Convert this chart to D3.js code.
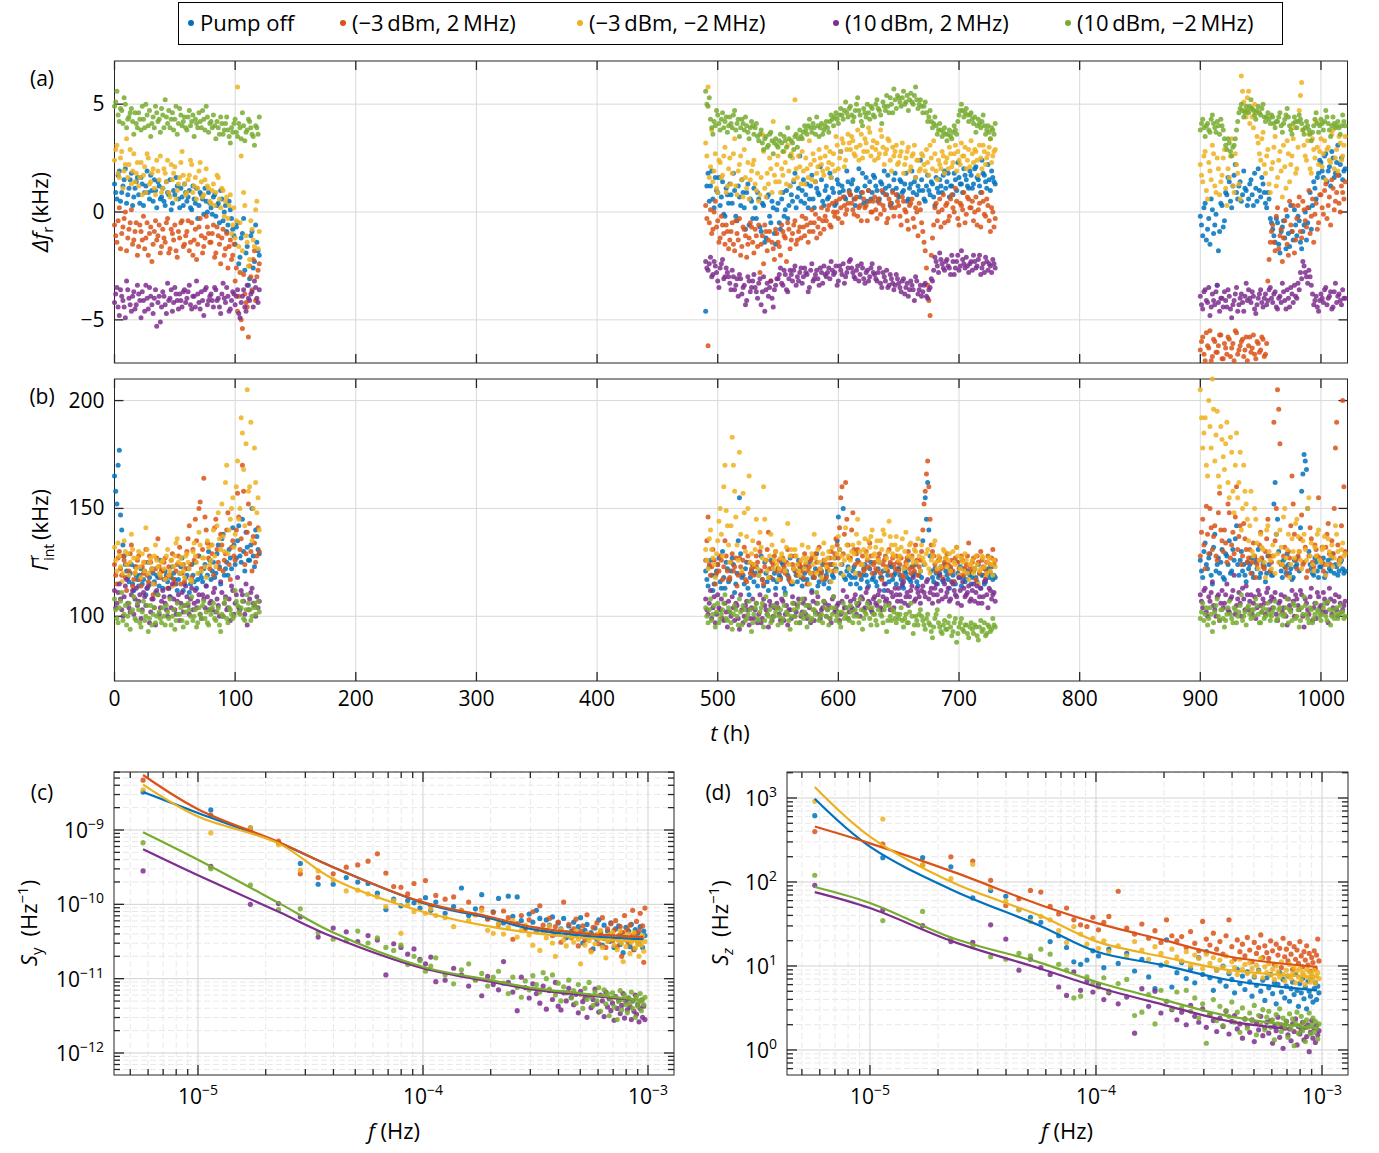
<!DOCTYPE html>
<html lang="en">
<head>
<meta charset="utf-8" />
<title>Pump stability – time traces and spectra</title>
<script src="https://cdn.jsdelivr.net/npm/d3@7"></script>
<style>
  body { margin: 0; background: #fff; }
  svg  { display: block; font-family: "Open Sans", Lato, "DejaVu Sans", sans-serif; }
</style>
</head>
<body>
<svg id="chart" width="1379" height="1153"></svg>
<script>
/* ---------- series ---------- */
const seriesNames = ['Pump off', '(\u22123\u2009dBm, 2\u2009MHz)', '(\u22123\u2009dBm, \u22122\u2009MHz)', '(10\u2009dBm, 2\u2009MHz)', '(10\u2009dBm, \u22122\u2009MHz)'];
const seriesColors = ['#0072BD', '#D95319', '#EDB120', '#7E2F8E', '#77AC30'];

/* ---------- time traces: three runs; readings at even hours (…) and odd hours (…2) ---------- */
const segStart = [0, 490, 900];
const segEnd = [120, 730, 1020];
const sampleStep = 2;

// (a) resonance shift, kHz
const dfBlue = [
  [1.3,0.6,1.9,0.9,1.5,0.4,1.1,1.8,0.7,1.4, 0.8,1.6,0.3,1.2,0.9,1.7,0.5,1.0,1.4,0.6, 1.1,0.3,0.9,1.5,0.4,0.8,1.2,0.2,0.7,1.3,
   0.5,1.0,0.1,0.6,1.1,0.3,0.8,-0.1,0.5,0.9, 0.2,0.7,-0.2,0.4,1.0,-0.4,0.3,-0.6,0.1,-0.8, -1.5,-0.5,-2.1,-1.0,-2.7,-1.6,-3.1,-0.9,-2.3,-1.4, -2.0],
  [-4.6,1.8,1.2,0.6,1.6,0.9,0.3,1.4,-0.2,0.8, 1.3,0.4,1.0,-0.4,0.7,1.5,0.2,0.9,-0.6,0.5, 1.1,-0.3,0.6,-0.9,0.3,-1.2,0.8,-0.5,0.2,-1.5,
   0.4,-0.8,0.9,0.1,-0.3,1.2,0.5,1.8,0.7,2.6, 1.0,0.4,1.3,0.6,1.7,0.2,1.1,0.8,1.5,0.3, 1.2,0.7,1.6,0.9,0.4,1.3,2.8,1.0,0.6,1.4,
   0.8,1.5,0.3,1.1,0.7,1.8,1.2,0.5,1.4,0.9, 1.6,1.0,0.6,1.3,1.9,0.8,1.2,0.4,1.5,1.1, 0.7,1.4,1.0,1.8,0.6,1.3,0.9,1.6,1.2,2.4,
   1.0,0.5,1.7,0.8,1.3,0.3,1.1,1.5,0.9,1.9, 1.4,0.7,1.2,1.8,1.0,1.6,1.3,2.0,1.5,1.1, 1.7,1.3,2.1,1.5,0.9,1.8,1.4,2.2,1.0,1.6, 1.3],
  [-0.2,-1.1,0.4,-0.8,-1.5,0.1,-0.6,-3.4,-0.9,0.3, -0.4,0.8,1.4,0.2,1.7,0.9,1.2,0.5,1.9,1.0, 0.6,1.5,0.3,1.1,2.0,0.7,1.3,0.4,0.9,-0.3,
   -0.8,-1.4,-0.5,-1.9,-0.7,-1.2,-0.2,-1.6,-0.9,0.1, -1.1,-0.4,-1.7,-0.6,-1.3,0.2,-0.8,1.4,0.6,1.8, 2.3,1.6,2.7,1.9,1.2,2.5,1.8,3.1,2.2,1.5, 2.0]
];
const dfBlue2 = [
  [0.9,1.7,0.5,1.2,2.0,0.8,1.5,0.3,1.1,1.6, 0.4,1.3,0.9,1.9,0.6,1.0,1.5,0.2,1.2,0.7, 0.5,1.4,0.8,0.1,1.0,1.6,0.6,1.1,0.3,0.9,
   0.7,0.2,1.2,0.4,-0.3,0.9,0.6,1.1,0.0,0.4, -0.1,0.8,0.3,-0.5,0.6,0.0,-0.9,0.5,-0.3,-1.1, -0.7,-2.4,-1.2,-0.3,-1.9,-3.4,-1.1,-2.6,-0.6,-1.8],
  [1.2,0.5,1.9,0.2,1.0,1.6,0.7,-0.1,1.1,0.4, 0.8,1.8,-0.2,1.2,0.3,0.9,-0.8,1.3,0.6,-0.3, 0.2,0.9,-0.7,0.4,-1.4,0.7,-0.2,0.5,-1.0,0.1,
   -0.5,0.6,-0.2,1.0,0.3,0.8,1.4,0.2,1.1,0.5, 1.5,0.8,0.2,1.2,0.6,1.4,0.9,2.1,0.5,1.0, 0.6,1.8,1.1,0.3,1.5,0.9,1.2,0.7,1.9,1.0,
   1.3,0.6,1.0,2.0,0.9,0.4,1.6,1.0,0.6,1.7, 1.2,0.5,1.4,0.9,1.1,1.7,0.3,1.0,1.8,0.8, 1.5,0.9,1.3,0.5,1.1,1.9,1.4,0.8,1.0,1.5,
   0.6,1.2,1.0,1.4,0.7,1.6,0.9,1.2,1.7,1.1, 1.8,1.2,0.8,1.5,2.3,1.3,0.9,1.7,1.2,1.9, 1.1,2.0,1.6,1.2,2.4,1.7,1.1,1.5,1.9,1.4],
  [-0.6,0.2,-1.3,-0.3,0.6,-1.0,-0.1,-1.8,0.4,-0.7, 0.9,1.6,0.5,1.2,2.2,0.6,1.4,0.8,1.1,0.3, 1.3,0.8,1.8,0.5,1.0,1.6,0.9,0.2,0.6,-0.5,
   -1.1,-0.3,-1.5,-0.9,-0.4,-1.7,-1.0,0.3,-1.3,-0.6, -0.2,-1.4,-0.9,0.0,-0.5,0.9,0.3,1.1,1.6,2.4, 1.9,2.6,1.4,2.1,2.8,1.6,2.3,1.7,2.5,1.9]
];
const dfOrange = [
  [-0.6,-1.4,0.2,-1.0,-0.3,-1.8,-0.8,0.1,-1.3,-0.5, -1.6,-0.9,-0.2,-1.2,-2.0,-0.7,-1.5,-0.4,-1.1,-1.9, -0.8,-1.4,-0.3,-1.7,-1.0,-0.6,-2.1,-1.2,-0.4,-1.5,
   -0.9,-1.8,-0.5,-1.3,-2.2,-0.7,-1.1,-1.6,-0.2,-1.0, -1.4,-0.6,-1.9,-1.1,-2.4,-0.8,-1.7,-2.6,-1.3,-2.0, -3.2,-4.6,-2.8,-5.4,-3.8,-4.4,-2.5,-3.6,-1.8,-3.0, -2.4],
  [0.3,-6.2,0.1,-0.8,0.5,-0.4,-1.2,-0.6,-1.5,-0.9, -1.3,-0.5,-1.8,-1.0,-0.3,-1.6,-0.8,-2.1,-1.2,-0.7, -1.9,-1.1,-0.6,-1.5,-2.4,-0.9,-1.3,-3.2,-1.7,-0.8,
   -1.4,-2.0,-0.9,-1.2,-0.5,-1.7,-1.0,-0.4,-1.3,-0.7, -0.2,-1.1,-0.6,-0.9,0.1,-0.5,-1.2,-0.3,0.2,-0.8, -0.4,0.3,-0.7,0.0,0.5,-0.3,0.2,0.7,-0.1,0.4,
   0.8,0.1,0.6,-0.2,0.3,0.9,0.2,-0.4,0.5,0.0, 0.7,-0.3,0.4,1.0,0.1,-0.5,0.6,0.2,-0.2,0.8, 0.3,-0.6,0.5,0.0,-0.8,0.4,-0.3,0.2,-1.1,0.1,
   -0.9,-1.8,-3.4,-4.8,-1.2,0.2,-0.4,0.6,0.1,-0.5, 0.4,-0.2,0.8,0.0,0.5,-0.6,0.3,0.9,-0.1,0.6, 0.2,-0.4,0.7,0.1,-0.7,0.5,-0.2,0.3,-0.9,0.0, -0.3],
  [-6.4,-5.8,-6.9,-6.2,-5.5,-6.7,-6.0,-6.5,-5.7,-6.8, -6.1,-6.6,-5.9,-6.3,-6.9,-5.6,-6.4,-6.0,-6.7,-5.8, -6.2,-6.5,-5.7,-6.8,-6.1,-6.4,-5.9,-6.6,-3.2,-1.4,
   -0.6,-1.8,0.2,-1.1,-2.3,-0.4,-1.5,0.5,-0.9,-1.9, -0.3,0.7,-1.2,0.1,-0.7,1.0,-0.2,-1.4,0.4,-0.5, 0.8,-0.1,1.3,0.3,-0.6,1.1,0.5,1.7,0.0,0.9, 1.4]
];
const dfOrange2 = [
  [-1.1,-0.4,-1.7,-0.7,0.0,-1.2,-0.5,-1.5,-0.9,-2.0, -0.6,-1.3,-1.7,-0.5,-1.0,-2.3,-0.9,-1.3,-0.6,-1.6, -1.2,-0.5,-1.9,-0.8,-1.3,-1.8,-0.9,-0.5,-1.6,-1.1,
   -0.4,-1.4,-2.0,-0.8,-1.5,-0.3,-1.9,-1.2,-0.7,-1.4, -1.0,-2.1,-0.7,-1.5,-1.2,-2.0,-1.0,-1.6,-2.2,-1.5, -2.6,-3.9,-5.0,-2.9,-4.2,-5.8,-3.0,-2.2,-4.1,-2.7],
  [-0.3,-0.5,-1.0,0.0,-0.7,-1.4,-0.2,-1.0,-0.6,-1.7, -0.9,-1.5,-0.4,-1.3,-2.0,-0.7,-1.1,-1.5,-0.5,-1.4, -0.8,-1.6,-2.8,-1.1,-0.6,-1.8,-0.9,-1.4,-2.2,-1.0,
   -1.6,-0.6,-1.1,-2.3,-0.8,-1.3,-0.6,-1.5,-0.9,-1.2, -0.7,-0.3,-1.4,-0.5,-0.9,-0.1,-0.7,-1.0,-0.4,-0.2, 0.1,-0.6,0.4,-0.2,0.0,0.6,-0.5,0.3,0.1,0.9,
   0.4,-0.1,0.7,0.2,-0.4,0.6,0.3,1.0,0.0,0.5, 0.1,0.6,-0.1,0.3,0.8,-0.3,0.4,0.9,0.2,0.5, -0.2,0.7,0.1,-0.4,0.3,0.6,-0.7,0.0,0.4,-0.5,
   -1.4,-2.6,-4.1,-2.0,-0.6,0.4,0.0,-0.7,0.8,0.3, -0.4,0.6,0.2,1.1,-0.3,0.4,0.1,-0.5,0.7,0.2, 0.5,0.0,-0.6,0.4,0.9,-0.1,0.6,-0.4,0.2,-0.7],
  [-6.0,-6.6,-5.6,-6.3,-6.9,-5.9,-6.5,-6.2,-5.7,-6.8, -6.3,-5.8,-6.7,-6.1,-5.5,-6.6,-6.2,-5.9,-6.4,-6.9, -5.8,-6.3,-6.6,-6.0,-6.5,-5.8,-6.7,-6.1,-2.2,-0.9,
   -1.4,-0.2,-1.7,-0.8,-1.2,0.1,-2.0,-0.6,0.3,-1.3, 0.3,-0.9,0.5,-0.4,0.2,-1.0,0.6,-0.1,-0.8,0.8, 0.2,1.0,-0.3,0.7,1.5,0.1,0.9,0.4,1.2,0.6]
];
const dfYellow = [
  [2.4,3.1,1.6,2.8,1.9,3.4,2.2,1.3,2.7,1.8, 1.2,2.3,1.7,0.9,2.5,1.4,2.0,0.8,1.9,2.6, 1.1,1.8,2.4,0.7,1.5,2.1,1.0,1.6,2.8,1.3,
   0.9,1.7,2.2,1.2,0.6,1.9,1.4,0.8,2.0,1.1, 0.4,1.3,0.9,1.6,0.2,1.0,0.5,-0.3,0.8,-0.6, -1.2,5.8,-0.5,-1.8,0.3,-1.4,-2.2,-0.8,-1.6,0.5, -0.9],
  [3.2,5.8,2.1,1.4,2.7,0.9,2.3,1.7,3.0,1.2, 2.5,1.8,3.4,0.8,2.2,1.5,2.9,1.1,0.6,1.9, 2.4,1.0,0.5,1.6,2.8,0.7,1.3,2.0,4.2,1.4,
   2.6,0.9,1.7,2.3,3.1,1.2,2.5,5.2,1.6,2.1, 2.8,1.3,2.0,3.3,1.5,2.4,1.8,2.9,2.2,1.7, 3.0,2.3,1.6,2.7,3.5,2.0,2.8,3.2,2.4,3.6,
   2.9,3.3,2.6,3.8,3.1,2.5,3.4,2.8,3.7,3.0, 2.4,3.2,2.7,3.5,2.2,2.9,3.3,1.9,2.6,3.1, 2.3,2.8,1.8,2.5,3.0,2.1,2.7,1.6,2.4,2.0,
   2.6,1.9,2.3,3.1,2.0,2.7,1.5,2.2,2.8,1.8, 2.5,3.0,2.1,2.7,1.9,2.4,3.2,2.6,2.0,2.9, 3.3,2.3,2.8,1.7,2.5,3.1,2.2,2.7,3.4,2.6, 2.9],
  [2.2,1.4,2.8,0.6,1.9,3.1,1.2,2.5,0.8,1.7, 2.9,0.3,1.6,3.4,0.9,2.2,1.3,6.3,5.1,4.4, 5.6,4.8,3.9,4.6,3.2,2.4,3.7,1.8,2.9,0.9,
   2.3,3.5,1.6,2.8,0.7,2.1,3.3,1.4,2.6,3.9, 2.0,4.7,6.0,3.1,2.4,3.6,1.8,2.9,4.2,2.2, 3.4,2.7,1.5,3.0,2.3,3.8,2.5,1.9,3.2,2.6, 3.5]
];
const dfYellow2 = [
  [2.9,1.8,2.5,1.1,2.2,1.6,2.9,1.9,1.4,2.3, 1.6,0.8,2.1,2.7,1.3,1.8,1.1,2.4,1.5,0.9, 2.0,1.4,0.9,2.2,1.8,0.6,1.3,2.3,1.7,0.8,
   1.5,2.4,0.9,1.6,1.1,2.3,0.7,1.5,1.2,0.5, 1.0,0.3,1.7,0.6,1.1,-0.2,0.7,0.3,-1.0,0.2, -0.4,-1.6,2.6,0.9,-1.1,-2.5,-0.4,-1.3,0.1,-1.7],
  [2.6,1.6,3.8,1.9,1.1,2.4,1.6,2.6,0.9,2.0, 1.3,2.7,1.2,1.9,2.6,0.7,1.6,2.3,1.5,2.2, 1.3,1.8,0.8,3.6,1.1,1.8,2.5,0.9,1.7,2.2,
   1.4,2.0,2.8,1.3,1.9,2.7,1.5,2.0,2.6,1.3, 1.9,2.5,1.6,2.2,2.7,1.4,2.1,2.5,1.9,2.6, 2.0,2.8,2.2,1.9,3.1,2.5,3.4,2.1,2.9,3.2,
   3.5,2.7,3.0,2.4,3.6,2.8,3.2,3.9,2.6,3.3, 2.9,2.5,3.8,3.0,2.7,3.4,2.4,3.0,2.8,2.2, 2.6,3.2,2.2,2.8,1.9,2.6,3.1,2.4,1.9,2.7,
   2.2,2.9,1.7,2.5,3.3,1.9,2.4,2.0,2.6,2.3, 2.0,2.7,2.3,3.1,2.8,2.2,2.6,3.0,2.4,2.1, 2.7,2.9,2.4,3.1,2.0,2.8,2.5,3.0,2.3,2.8],
  [1.7,2.6,1.0,2.3,1.5,2.7,0.9,2.0,1.4,2.5, 1.1,2.0,2.6,1.2,2.7,1.8,0.6,5.6,4.7,5.3, 4.1,4.4,5.0,3.5,2.7,3.4,2.2,2.6,1.3,2.0,
   3.0,1.2,2.4,1.9,3.1,1.1,2.7,2.2,3.4,1.8, 3.0,5.4,3.8,2.6,3.3,2.0,3.4,2.5,3.0,2.8, 2.1,3.3,2.9,2.4,3.6,2.0,2.9,3.5,2.4,3.1]
];
const dfPurple = [
  [-4.2,-3.5,-4.8,-3.9,-4.4,-3.2,-4.0,-4.6,-3.7,-4.3, -3.8,-4.9,-4.1,-3.4,-4.5,-3.9,-4.7,-3.6,-4.2,-5.1, -3.7,-4.3,-3.3,-4.0,-4.6,-3.5,-4.1,-3.8,-4.4,-3.6,
   -4.0,-3.4,-4.5,-3.9,-3.2,-4.2,-3.7,-4.8,-3.5,-4.1, -3.8,-4.4,-3.6,-4.0,-4.7,-3.3,-4.2,-3.9,-4.5,-3.7, -4.3,-3.6,-4.9,-3.9,-4.4,-3.4,-4.1,-3.7,-3.2,-4.0, -3.6],
  [-2.3,-2.7,-2.1,-2.9,-2.5,-3.2,-2.6,-2.2,-3.0,-2.8, -3.3,-2.7,-3.6,-3.1,-2.9,-3.8,-3.4,-4.1,-3.2,-3.5, -2.9,-3.7,-3.3,-4.3,-3.0,-3.6,-3.9,-3.2,-4.4,-3.4,
   -3.1,-2.6,-3.4,-2.9,-3.7,-2.7,-3.2,-2.5,-3.0,-2.8, -3.3,-2.6,-2.9,-3.5,-2.4,-3.1,-2.7,-3.4,-2.8,-2.5, -3.0,-2.6,-2.3,-2.9,-2.5,-3.2,-2.7,-2.4,-3.0,-2.6,
   -2.2,-2.8,-3.1,-2.5,-2.9,-2.6,-3.3,-2.7,-3.0,-2.4, -2.9,-3.2,-2.6,-3.5,-3.0,-2.7,-3.4,-3.1,-3.6,-2.9, -3.3,-3.7,-3.1,-3.5,-3.9,-3.2,-3.6,-3.0,-3.8,-3.4,
   -3.7,-3.3,-4.0,-3.5,-3.2,-2.1,-2.5,-1.9,-2.4,-2.7, -2.2,-2.6,-2.0,-2.9,-2.3,-2.7,-1.8,-2.4,-2.1,-2.8, -2.3,-2.0,-2.6,-2.2,-2.9,-2.4,-2.1,-2.7,-2.5,-2.2, -2.6],
  [-3.9,-4.5,-3.6,-4.2,-4.8,-3.8,-4.3,-3.4,-4.6,-4.0, -3.7,-4.4,-3.9,-4.9,-4.1,-3.5,-4.3,-3.8,-4.6,-3.3, -3.6,-4.2,-3.9,-4.7,-4.0,-3.6,-4.4,-3.8,-4.1,-3.5,
   -4.2,-3.7,-4.5,-3.9,-3.3,-4.1,-3.6,-4.4,-3.8,-3.4, -4.0,-3.6,-3.1,-2.5,-3.0,-2.7,-3.4,-4.3,-3.9,-4.6, -3.8,-4.2,-3.5,-4.0,-3.7,-4.4,-3.3,-3.9,-4.1,-3.6, -4.0]
];
const dfPurple2 = [
  [-3.8,-4.4,-3.6,-4.1,-4.9,-3.6,-4.3,-3.9,-4.5,-3.4, -4.1,-3.7,-4.6,-4.0,-3.5,-4.3,-4.0,-5.3,-3.9,-4.4, -3.9,-4.7,-4.1,-3.6,-4.2,-3.8,-4.5,-4.1,-3.7,-4.2,
   -3.7,-4.3,-3.9,-4.4,-3.8,-4.5,-4.1,-3.6,-4.3,-3.9, -4.1,-3.5,-4.1,-4.4,-3.8,-4.0,-3.5,-4.6,-4.1,-3.8, -3.9,-4.7,-4.2,-3.6,-4.6,-4.0,-3.8,-4.4,-3.5,-4.2],
  [-2.6,-2.4,-3.0,-2.3,-2.8,-3.5,-2.4,-3.1,-2.6,-3.0, -3.6,-3.0,-3.4,-3.9,-3.1,-3.5,-4.3,-3.0,-3.7,-3.2, -3.5,-4.0,-3.1,-3.7,-4.6,-3.3,-3.5,-4.0,-3.6,-3.1,
   -2.9,-3.3,-2.7,-3.6,-3.1,-2.9,-2.7,-3.4,-3.2,-2.6, -3.0,-2.8,-3.7,-2.7,-3.2,-2.9,-3.1,-2.6,-3.3,-2.9, -2.8,-3.1,-2.7,-2.8,-3.4,-2.5,-2.9,-3.3,-2.8,-2.3,
   -2.6,-3.0,-2.7,-3.2,-2.4,-3.1,-2.8,-3.2,-2.6,-2.8, -3.1,-2.8,-3.3,-2.8,-3.2,-3.5,-2.9,-3.3,-3.4,-3.1, -3.5,-3.2,-3.8,-3.3,-3.6,-3.4,-4.1,-3.2,-3.6,-3.9,
   -3.4,-3.9,-3.6,-3.1,-2.7,-2.3,-2.8,-2.2,-2.6,-2.3, -2.5,-2.9,-2.3,-2.6,-2.0,-2.5,-2.2,-2.6,-2.5,-2.4, -2.7,-2.3,-2.5,-2.0,-2.6,-2.8,-2.3,-2.4,-2.8,-2.4],
  [-4.3,-3.7,-4.1,-3.5,-4.4,-4.1,-3.7,-4.2,-4.0,-4.4, -4.1,-3.6,-4.5,-4.3,-3.8,-4.6,-4.0,-4.2,-3.9,-4.1, -4.0,-3.7,-4.5,-4.3,-3.8,-4.2,-4.0,-4.3,-3.6,-4.0,
   -3.8,-4.4,-4.0,-4.2,-3.7,-4.5,-4.0,-3.5,-4.2,-3.9, -3.3,-2.8,-2.3,-2.8,-3.3,-3.0,-3.8,-4.1,-4.4,-4.1, -4.0,-3.6,-4.3,-3.9,-4.5,-3.7,-4.2,-3.8,-4.3,-4.0]
];
const dfGreen = [
  [4.9,5.6,4.2,4.7,5.3,3.9,4.4,4.8,3.6,4.1, 4.6,3.8,4.3,5.0,4.0,3.5,4.4,4.9,4.2,3.7, 4.5,5.2,4.1,3.9,4.6,4.3,3.6,4.8,4.0,4.4,
   3.8,4.7,4.2,3.5,4.1,4.6,3.9,4.3,4.9,3.7, 4.2,4.5,3.4,3.9,4.4,3.6,4.1,3.8,3.2,3.7, 4.3,3.5,3.9,4.6,3.3,3.8,4.2,3.6,3.1,3.9, 4.4],
  [5.6,4.9,4.3,3.6,4.0,4.5,3.8,4.6,4.2,3.7, 4.4,3.9,4.7,4.1,3.5,4.3,3.8,4.0,3.4,4.2, 3.6,4.1,3.3,3.8,2.9,3.5,3.1,3.7,2.7,3.4,
   3.0,3.6,2.8,3.3,3.9,2.6,3.2,3.5,3.0,3.8, 3.4,4.0,3.6,4.3,3.7,3.9,4.4,3.5,4.1,3.8, 4.2,3.7,4.5,4.0,4.6,4.1,4.8,4.3,5.1,4.4,
   4.9,4.2,4.7,5.3,4.5,4.0,4.6,5.0,4.3,4.8, 4.4,5.2,4.7,4.1,4.9,5.4,4.6,5.0,5.7,4.8, 5.3,4.9,5.6,5.1,4.7,5.5,5.0,5.8,4.8,5.2,
   4.6,5.1,4.2,4.7,3.9,4.4,3.6,4.1,3.5,3.9, 3.3,3.8,3.4,4.0,3.6,4.5,5.0,4.4,4.8,4.2, 4.6,4.1,3.7,4.3,3.9,4.5,3.6,4.0,3.4,3.8, 4.1],
  [3.8,4.3,3.5,4.1,3.7,4.5,3.9,4.2,3.6,4.0, 3.4,2.9,3.2,2.6,3.1,3.8,4.6,5.0,4.4,4.9, 4.6,5.2,4.7,4.3,4.9,4.5,5.0,4.2,4.6,4.1,
   4.4,3.9,4.2,4.6,3.7,4.3,4.8,4.0,3.6,4.4, 3.9,4.5,4.1,3.6,4.2,3.8,3.3,4.0,4.6,3.7, 4.3,3.8,4.7,4.1,3.5,4.4,3.9,4.2,3.6,4.5, 4.0]
];
const dfGreen2 = [
  [5.1,4.5,4.8,4.1,5.0,4.3,4.6,4.2,4.6,3.9, 4.3,4.9,3.9,4.5,4.7,4.1,3.9,4.6,4.3,4.8, 3.9,4.4,4.7,4.3,3.8,4.9,4.1,4.5,4.2,3.9,
   4.4,4.0,4.5,4.3,3.9,4.2,4.7,3.8,4.4,4.1, 3.9,4.0,4.2,3.6,4.1,3.8,4.4,3.5,3.9,4.1, 3.7,4.1,3.4,4.0,3.7,4.3,3.9,3.5,4.0,3.6],
  [5.0,5.3,3.9,4.2,4.7,4.1,4.3,3.9,4.4,4.0, 4.1,4.5,3.8,4.3,3.9,4.1,4.4,3.7,3.9,4.0, 3.9,3.5,3.6,3.2,3.4,3.0,3.6,3.3,3.2,3.1,
   3.3,3.2,3.5,3.0,3.4,3.3,2.9,3.6,3.4,3.5, 3.7,3.8,4.0,3.9,4.1,3.6,4.0,3.9,3.6,4.0, 3.9,4.2,4.3,4.4,4.3,4.5,4.5,4.7,4.6,4.8,
   4.5,4.4,5.0,4.7,4.2,4.8,4.4,4.6,4.9,4.5, 5.0,4.8,4.5,5.1,4.7,4.9,5.3,4.6,5.2,5.4, 5.1,5.3,5.0,5.4,5.2,5.1,5.4,5.2,5.0,4.9,
   4.9,4.6,4.4,4.2,4.1,4.0,3.8,3.8,3.7,3.6, 3.6,3.5,3.7,3.8,4.2,4.7,4.7,4.6,4.5,4.5, 4.3,4.4,4.0,4.1,4.2,4.0,3.8,3.7,3.9,3.6],
  [4.1,3.9,4.0,3.8,4.3,4.1,3.7,4.0,4.3,3.8, 3.1,3.4,2.8,3.0,3.4,4.2,4.8,4.7,4.6,4.7, 4.9,4.8,4.5,4.7,4.6,4.8,4.4,4.4,4.3,4.5,
   4.1,4.2,4.4,4.0,4.1,4.5,4.4,3.8,4.1,4.2, 4.2,4.3,3.8,3.9,4.0,3.6,3.7,4.3,4.1,4.0, 4.1,4.2,4.4,3.8,4.0,4.1,4.0,3.9,4.0,4.2]
];

// (b) intrinsic linewidth, kHz
const gmBlue = [
  [165,152,177,140,128,121,116,124,112,119, 114,122,117,110,125,115,120,111,118,126, 113,121,116,109,123,117,112,120,127,115,
   119,111,124,116,113,128,118,122,114,130, 117,125,120,133,115,138,122,119,127,141, 124,135,128,145,121,132,126,150,123,137, 129],
  [121,114,126,112,119,124,116,130,113,122, 117,127,111,120,155,118,115,125,110,121, 116,123,119,128,114,120,112,126,117,113,
   122,118,124,111,119,127,115,121,116,123, 114,120,117,125,112,118,129,116,121,115, 119,113,124,118,122,146,120,150,117,123,
   115,121,118,126,113,119,124,116,122,117, 120,114,125,118,112,121,116,123,119,115, 122,117,113,120,126,116,119,124,114,121,
   135,155,162,128,118,122,115,120,117,124, 119,113,121,116,125,118,114,122,117,120, 115,121,118,124,113,119,116,122,120,117, 118],
  [126,118,134,122,129,115,138,124,120,131, 117,128,135,121,126,142,119,130,124,116, 122,127,118,125,131,120,124,116,128,121,
   119,162,145,125,118,123,129,120,117,126, 124,121,158,175,168,130,122,119,125,118, 123,127,120,126,121,129,124,119,125,122, 121]
];
const gmBlue2 = [
  [158,170,147,133,124,118,120,115,123,117, 119,115,121,113,118,122,116,119,114,121, 117,119,113,118,120,115,117,123,112,118,
   122,115,119,125,117,120,116,124,119,126, 121,118,129,123,136,119,125,131,122,133, 127,142,125,130,139,126,133,128,140,131],
  [117,123,119,115,121,127,113,118,125,116, 121,124,115,135,129,119,122,113,118,124, 120,114,121,117,125,116,118,122,120,116,
   119,125,113,121,117,115,122,119,126,118, 117,123,115,120,118,122,114,119,124,117, 121,116,119,127,135,131,124,118,121,119,
   118,123,115,120,117,122,119,114,125,118, 116,122,118,121,115,119,124,117,120,122, 119,114,121,118,117,123,120,116,119,118,
   124,145,140,121,116,120,118,123,116,121, 117,122,119,115,120,123,118,116,121,119, 118,122,116,120,119,115,121,118,123,119],
  [121,130,124,127,119,132,121,127,125,118, 129,124,120,131,136,124,126,121,119,125, 124,120,127,122,118,126,123,120,124,119,
   152,138,130,121,126,120,124,122,118,123, 127,141,166,172,150,124,120,127,121,123, 125,118,124,122,127,120,123,121,126,120]
];
const gmOrange = [
  [124,115,130,119,126,112,121,133,117,123, 128,114,120,131,116,125,110,122,136,118, 121,127,113,119,129,115,124,132,120,116,
   130,142,118,126,135,150,122,164,140,127, 133,119,145,125,138,121,129,148,117,135, 126,157,131,170,124,139,143,121,134,128, 130],
  [126,146,119,131,115,124,128,117,135,121, 118,129,123,114,127,120,132,116,125,122, 119,128,134,121,115,126,139,118,124,130,
   122,117,127,120,131,116,124,128,119,125, 121,129,115,123,127,118,125,132,120,126, 118,124,130,121,136,127,155,129,162,133,
   127,148,124,131,119,128,122,126,134,120, 125,121,129,117,126,123,131,119,124,128, 121,127,118,125,130,120,123,133,119,126,
   140,158,172,145,130,124,121,127,118,125, 129,120,126,116,132,122,128,119,124,134, 121,127,117,125,130,123,119,128,124,131, 126],
  [128,145,122,138,150,131,142,126,157,135, 140,125,148,133,129,160,137,124,143,131, 127,120,134,118,126,139,123,130,145,121,
   128,135,205,180,124,132,119,127,165,138, 122,130,147,125,118,128,136,123,131,155, 126,121,132,143,124,129,178,133,127,200, 130]
];
const gmOrange2 = [
  [119,127,122,128,118,124,129,114,120,126, 117,123,125,119,128,121,115,127,123,121, 125,118,123,126,117,121,128,115,124,122,
   136,124,131,145,128,153,131,146,134,122, 129,141,131,122,133,126,140,124,132,128, 140,146,136,158,129,152,130,137,125,141],
  [135,124,123,126,120,121,126,123,128,117, 125,121,127,119,123,126,117,128,120,124, 123,125,130,117,123,131,122,125,128,121,
   126,121,123,125,118,128,122,121,124,123, 118,124,121,126,120,129,121,122,117,124, 122,127,124,129,133,141,160,138,145,127,
   140,131,129,125,124,121,130,123,128,124, 122,127,120,124,128,121,125,127,122,125, 124,119,123,127,122,128,121,126,123,130,
   152,166,160,133,128,121,126,122,123,127, 124,123,121,127,125,119,126,122,128,123, 125,122,128,120,126,122,125,121,127,124],
  [139,133,151,129,141,137,128,148,140,130, 134,152,127,139,146,131,142,128,136,125, 131,125,128,124,133,127,122,136,128,125,
   190,150,196,124,128,122,130,142,152,126, 128,136,124,132,121,141,125,133,128,127, 132,124,138,129,135,150,190,126,142,160]
];
const gmYellow = [
  [132,121,128,116,135,124,119,138,127,122, 130,118,125,141,120,127,115,133,123,119, 126,117,131,121,114,128,136,120,124,118,
   129,122,116,134,125,139,121,127,118,132, 126,140,123,148,131,137,162,129,145,155, 138,172,150,185,142,205,160,135,178,148, 140],
  [131,122,140,127,118,135,150,128,170,142, 125,183,158,133,176,121,148,137,165,129, 124,145,119,132,160,126,118,138,122,130,
   117,127,135,121,143,128,116,131,124,119, 133,122,127,115,129,138,120,125,118,134, 123,130,116,127,121,137,124,119,141,128,
   126,133,120,145,130,124,136,127,132,140, 129,135,125,131,138,127,144,133,128,137, 126,132,122,139,128,134,125,130,136,121,
   127,124,131,120,128,135,122,126,118,130, 123,129,116,125,132,119,127,121,126,117, 124,120,128,115,122,127,118,125,121,119, 123],
  [205,178,192,165,188,210,172,195,160,182, 168,190,155,176,148,185,162,140,170,152, 135,158,128,145,122,138,131,118,142,126,
   133,120,129,140,124,150,131,118,136,127, 145,130,122,138,126,155,134,121,128,140, 125,132,119,136,128,123,142,130,126,134, 129]
];
const gmYellow2 = [
  [126,134,123,120,130,129,125,131,120,127, 123,129,121,131,125,122,128,126,120,125, 122,128,119,126,123,134,125,127,121,128,
   125,117,130,128,120,133,127,123,135,124, 133,128,142,136,152,130,170,140,150,132, 160,145,192,168,180,158,190,150,162,155],
  [126,136,131,124,129,144,138,160,149,133, 142,170,146,126,138,157,130,150,125,135, 131,122,139,127,145,121,128,133,126,124,
   122,129,126,132,124,131,122,128,121,126, 127,125,132,120,124,127,131,122,129,126, 127,121,132,124,129,131,128,126,133,122,
   130,129,138,134,124,131,129,135,137,128, 132,126,135,140,122,130,137,129,133,131, 128,136,130,124,133,127,131,125,128,133,
   125,129,122,126,133,125,128,123,131,127, 126,121,130,124,128,122,125,129,120,124, 126,122,124,121,128,123,120,127,124,126],
  [192,185,170,200,178,196,184,165,188,174, 180,162,183,158,170,155,176,150,158,145, 142,130,150,134,126,132,125,140,130,122,
   128,138,125,132,146,127,138,124,130,143, 137,126,135,131,150,128,124,132,138,126, 131,137,124,130,133,127,138,124,131,128]
];
const gmPurple = [
  [112,106,115,103,109,117,104,110,101,113, 107,99,111,105,114,102,108,96,110,104, 112,106,100,109,115,103,107,98,111,105,
   109,101,113,106,104,110,99,108,114,103, 107,111,102,105,116,100,109,104,98,112, 106,118,103,110,101,96,108,113,105,109, 107],
  [108,101,112,104,97,110,103,99,106,95, 102,109,98,105,94,103,100,107,96,104, 99,106,101,97,108,103,95,105,100,110,
   104,98,107,101,96,103,109,100,105,97, 102,108,99,104,111,98,106,101,103,107, 100,105,97,109,103,106,101,112,104,99,
   107,103,110,105,100,108,104,113,106,102, 109,105,112,103,115,108,106,111,104,110, 113,107,116,109,105,112,118,108,111,106,
   114,109,117,111,106,113,110,119,108,115, 111,107,116,112,109,118,105,113,110,114, 108,115,111,106,113,109,117,104,112,110, 107],
  [110,104,113,100,107,116,103,109,98,112, 106,115,102,109,119,105,111,100,108,114, 103,110,106,99,112,105,108,101,113,107,
   104,111,98,107,102,109,96,105,112,100, 108,103,110,95,106,101,113,104,99,109, 105,111,102,97,108,104,110,100,106,103, 107]
];
const gmPurple2 = [
  [104,111,108,100,114,106,102,112,108,105, 110,103,109,113,97,108,104,112,101,107, 109,103,113,104,108,101,110,106,102,114,
   105,108,103,112,107,101,110,104,109,106, 103,113,108,100,111,106,103,108,114,101, 110,104,112,107,115,103,111,106,100,104],
  [103,106,99,109,101,104,108,98,102,107, 100,104,106,99,110,97,105,103,99,108, 103,97,110,99,105,101,107,98,104,106,
   101,108,98,105,103,99,106,102,108,100, 106,101,105,97,107,102,109,99,104,106, 103,99,108,102,105,98,107,104,109,102,
   104,108,101,106,109,103,111,107,103,108, 106,110,104,109,107,112,103,109,113,107, 110,115,106,111,109,114,107,113,109,112,
   111,116,108,113,110,115,107,112,117,109, 113,108,115,110,106,112,116,109,111,107, 112,107,114,109,106,116,110,113,108,111],
  [107,112,102,109,111,105,100,110,106,104, 110,103,108,112,101,108,106,113,103,110, 107,101,109,104,110,102,106,111,103,109,
   108,101,106,110,104,100,108,103,107,110, 105,112,100,108,103,109,98,106,111,104, 102,108,106,113,101,107,103,109,102,105]
];
const gmGreen = [
  [108,99,104,111,101,96,106,102,109,98, 103,95,107,100,93,105,101,97,110,99, 104,96,102,108,100,94,106,101,98,105,
   97,103,109,100,95,104,99,107,102,96, 101,106,98,104,93,100,108,97,103,99, 112,105,101,107,98,110,103,100,106,104, 102],
  [104,97,108,101,95,106,99,103,110,98, 102,94,105,100,108,96,103,99,107,93, 101,106,98,104,95,109,100,97,105,102,
   96,103,99,110,101,94,106,100,104,97, 108,102,95,105,99,103,111,98,101,107, 100,96,104,109,98,102,95,106,101,99,
   105,97,103,100,108,94,102,106,99,104, 101,96,107,100,103,93,105,98,102,97, 99,104,95,101,97,106,92,100,96,103,
   98,94,101,96,90,99,103,95,92,98, 94,100,91,97,88,95,99,93,96,90, 97,92,95,89,98,94,91,96,93,99, 95],
  [99,106,101,96,104,93,102,108,98,103, 95,101,107,99,104,97,102,110,100,96, 105,99,103,108,101,97,104,100,106,98,
   102,107,99,104,96,101,108,103,98,105, 100,95,104,109,101,97,103,99,106,102, 98,104,100,107,96,103,101,99,105,102, 100]
];
const gmGreen2 = [
  [103,97,107,98,105,100,94,103,99,106, 97,102,98,105,99,96,104,100,102,97, 100,105,99,96,103,98,101,104,95,102,
   106,100,98,103,97,101,105,99,97,103, 104,99,102,96,101,106,99,104,101,100, 107,102,104,99,103,106,98,104,101,107],
  [100,103,98,105,102,97,101,106,99,104, 97,101,103,96,102,105,98,101,103,97, 104,99,102,106,98,101,103,99,100,104,
   100,97,105,102,98,100,103,97,106,101, 99,105,100,98,103,101,106,100,97,104, 103,99,101,104,100,97,102,99,104,98,
   102,100,106,97,103,99,101,104,96,101, 98,103,101,97,105,98,100,103,99,101, 101,98,99,97,102,100,96,98,101,100,
   96,99,97,93,95,101,97,93,96,94, 97,95,93,99,92,97,94,96,92,95, 94,96,91,95,93,97,92,95,94,96],
  [102,98,104,99,101,97,105,100,103,99, 98,104,101,97,103,100,105,98,102,104, 101,103,100,105,97,102,99,103,101,100,
   104,98,103,101,100,104,97,102,106,99, 103,98,101,105,99,104,97,101,103,100, 101,106,98,103,100,99,104,101,102,99]
];

/* ---------- spectra: periodogram bins (bin width in Hz) ---------- */
const binWidth = 5.7e-6;
const binIndex = [];
for (let n = 1; n <= 20; n++) binIndex.push(n);
for (let n = 22; n <= 170; n += 2) binIndex.push(n);

// (c) log10 S_y
const syBlue = [-8.49,-8.73,-8.97,-9.17,-9.45,-9.73,-9.73,-9.64,-9.70,-9.72, -9.85,-10.07,-9.93,-10.02,-9.95,-9.98,-10.05,-9.91,-10.08,-9.97,
  -10.12,-10.03,-9.78,-10.15,-10.06,-9.87,-10.19,-10.10,-9.92,-10.25, -9.89,-10.16,-9.90,-10.22,-10.31,-10.13,-10.24,-10.08,-10.19,-10.35,
  -10.21,-10.28,-10.17,-10.40,-10.25,-10.33,-10.19,-10.45,-10.29,-10.36, -10.24,-10.41,-10.30,-10.18,-10.52,-10.35,-10.27,-10.44,-10.38,-10.60,
  -10.32,-10.47,-10.21,-10.39,-10.55,-10.28,-10.43,-10.36,-10.50,-10.25, -10.41,-10.58,-10.33,-10.46,-10.29,-10.54,-10.38,-10.65,-10.44,-10.31,
  -10.49,-10.36,-10.57,-10.27,-10.42,-10.61,-10.34,-10.48,-10.39,-10.53, -10.30,-10.45,-10.58,-10.36,-10.42];
const syOrange = [-8.33,-8.80,-9.00,-9.15,-9.59,-9.64,-9.59,-9.50,-9.47,-9.42, -9.32,-9.58,-9.76,-9.77,-9.86,-9.72,-9.95,-9.68,-10.02,-9.88,
  -9.93,-9.90,-10.08,-9.97,-10.14,-10.05,-10.20,-10.11,-10.27,-10.09, -10.18,-10.47,-10.26,-10.15,-10.33,-10.21,-10.10,-10.37,-10.02,-10.28,
  -10.35,-10.19,-10.42,-10.30,-10.24,-10.51,-9.97,-10.38,-10.27,-10.45, -10.33,-10.20,-10.56,-10.36,-10.29,-10.48,-10.14,-10.40,-10.62,-10.31,
  -10.44,-10.25,-10.53,-10.37,-10.18,-10.46,-10.58,-10.33,-10.41,-10.26, -10.49,-10.35,-10.22,-10.57,-10.42,-10.30,-10.70,-10.38,-10.15,-10.46,
  -10.34,-10.52,-10.28,-10.43,-10.08,-10.60,-10.39,-10.23,-10.50,-10.36, -10.12,-10.45,-10.29,-10.78,-10.05];
const syYellow = [-8.46,-9.04,-8.97,-9.20,-9.54,-9.55,-9.67,-9.82,-9.81,-9.86, -9.90,-10.03,-9.95,-10.39,-10.01,-10.10,-9.97,-10.12,-10.06,-10.15,
  -10.18,-10.30,-10.09,-10.22,-10.14,-10.08,-10.35,-10.39,-10.26,-10.40, -10.31,-10.22,-10.44,-10.35,-10.28,-10.41,-10.55,-10.33,-10.62,-10.37,
  -10.45,-10.29,-10.52,-10.70,-10.40,-10.34,-10.48,-10.56,-10.38,-10.44, -10.51,-10.36,-10.47,-10.80,-10.42,-10.55,-10.39,-10.49,-10.64,-10.43,
  -10.53,-10.40,-10.46,-10.35,-10.58,-10.44,-10.72,-10.50,-10.41,-10.47, -10.38,-10.55,-10.45,-10.61,-10.49,-10.36,-10.52,-10.77,-10.43,-10.57,
  -10.48,-10.40,-10.66,-10.51,-10.45,-10.38,-10.59,-10.47,-10.54,-10.70, -10.46,-10.55,-10.42,-10.63,-10.50];
const syPurple = [-9.55,-9.49,-10.00,-9.99,-10.17,-10.44,-10.32,-10.37,-10.50,-10.42, -10.48,-10.95,-10.53,-10.58,-10.67,-10.60,-10.74,-10.80,-10.71,-11.04,
  -11.02,-10.86,-10.95,-11.10,-11.01,-11.23,-10.97,-11.08,-11.15,-10.77, -11.05,-11.18,-11.43,-10.98,-11.12,-11.26,-11.07,-11.20,-11.33,-11.10,
  -11.41,-11.16,-11.28,-11.05,-11.37,-11.42,-11.19,-11.30,-11.13,-11.25, -11.35,-11.21,-11.46,-11.17,-11.31,-11.26,-11.52,-11.23,-11.39,-11.28,
  -11.14,-11.34,-11.45,-11.22,-11.30,-11.51,-11.18,-11.38,-11.27,-11.43, -11.33,-11.56,-11.24,-11.40,-11.29,-11.47,-11.36,-11.20,-11.53,-11.31,
  -11.42,-11.26,-11.38,-11.55,-11.30,-11.44,-11.22,-11.48,-11.35,-11.58, -11.40,-11.29,-11.52,-11.37,-11.55];
const syGreen = [-9.17,-9.52,-9.74,-10.07,-10.06,-10.38,-10.47,-10.49,-10.36,-10.52, -10.45,-10.58,-10.62,-10.55,-10.81,-10.70,-10.76,-10.90,-10.83,-10.72,
  -10.95,-11.07,-10.88,-10.80,-11.02,-10.93,-11.10,-10.98,-10.90,-11.06, -11.20,-10.98,-11.12,-11.25,-11.03,-11.15,-10.96,-11.08,-11.18,-10.92,
  -11.00,-11.14,-10.95,-11.22,-11.06,-11.30,-11.11,-11.19,-11.02,-11.26, -11.16,-11.33,-11.08,-11.21,-11.40,-11.13,-11.28,-11.05,-11.24,-11.36,
  -11.18,-11.30,-11.12,-11.44,-11.23,-11.15,-11.34,-11.20,-11.50,-11.27, -11.19,-11.38,-11.25,-11.55,-11.31,-11.16,-11.42,-11.28,-11.22,-11.35,
  -11.46,-11.26,-11.33,-11.18,-11.40,-11.29,-11.52,-11.24,-11.37,-11.31, -11.20,-11.43,-11.28,-11.35,-11.25];

// (d) log10 S_z
const szBlue = [2.79,2.29,2.29,2.18,1.81,1.90,1.83,1.67,1.58,1.52, 1.29,1.36,1.22,1.05,1.02,1.07,1.18,1.12,0.98,1.20,
  1.03,1.15,0.94,1.08,0.87,0.73,1.01,1.31,0.75,0.92, 1.04,0.85,0.97,0.80,1.10,0.90,1.17,0.86,0.71,0.95,
  0.82,1.00,0.76,0.91,0.84,0.68,0.96,0.79,0.88,0.72, 0.93,0.81,0.64,0.87,0.77,0.95,0.70,0.83,0.59,0.86,
  0.74,0.90,0.67,0.80,0.55,0.78,0.92,0.69,0.84,0.62, 0.76,0.88,0.58,0.73,0.81,0.66,0.90,0.71,0.52,0.79,
  0.68,0.85,0.61,0.75,0.49,0.82,0.70,0.64,0.87,0.57, 0.73,0.80,0.60,0.76,0.68];
const szOrange = [2.60,2.45,2.20,2.30,2.25,2.02,1.72,1.80,1.90,1.88, 1.71,1.62,1.69,1.55,1.49,1.47,1.58,1.43,1.52,1.59,
  1.89,1.45,1.38,1.50,1.33,1.42,1.28,1.55,1.36,1.30, 1.35,1.22,1.41,1.27,1.18,1.53,1.32,1.25,1.39,1.20,
  1.29,1.14,1.36,1.55,1.23,1.08,1.31,1.17,1.26,1.12, 1.34,1.19,1.05,1.28,1.15,1.22,1.37,1.10,1.24,1.16,
  1.09,1.30,1.18,1.02,1.26,1.13,1.21,0.98,1.33,1.11, 1.20,1.06,1.27,1.14,0.96,1.23,1.08,1.19,1.03,1.29,
  1.12,0.99,1.17,1.07,1.24,1.01,1.15,0.94,1.10,1.04, 1.18,0.97,1.13,1.32,1.06];
const szYellow = [2.96,2.75,2.20,2.04,2.21,1.93,1.77,1.67,1.53,1.59, 1.55,1.42,1.28,1.47,1.38,1.26,1.33,1.21,1.30,1.17,
  1.24,1.12,1.29,1.19,1.08,1.23,1.15,1.04,1.20,1.11, 1.06,1.17,1.00,1.13,1.09,0.97,1.14,1.03,1.10,0.95,
  1.07,0.99,1.12,0.93,1.05,0.98,0.90,1.08,0.96,1.02, 0.91,1.04,0.97,0.88,1.01,0.94,1.09,0.86,0.99,0.92,
  1.03,0.89,0.96,0.84,1.00,0.93,0.87,1.05,0.90,0.82, 0.95,0.88,1.02,0.85,0.91,0.98,0.80,0.94,0.87,0.97,
  0.83,0.92,0.89,0.78,0.96,0.86,0.93,0.81,0.90,0.84, 0.95,0.79,0.88,0.92,0.85];
const szPurple = [1.96,1.67,1.48,1.29,1.28,1.49,1.32,0.95,1.08,0.98, 0.90,0.75,0.65,0.93,0.71,0.82,0.69,0.78,0.60,0.68,
  0.55,0.63,0.20,0.73,0.52,0.70,0.44,0.58,0.48,0.36, 0.45,0.30,0.53,0.40,0.33,0.49,0.27,0.42,0.35,0.22,
  0.38,0.28,0.46,0.19,0.34,0.41,0.25,0.31,0.14,0.37, 0.29,0.21,0.36,0.10,0.32,0.24,0.40,0.17,0.27,0.33,
  0.20,0.35,0.08,0.28,0.23,0.39,0.15,0.30,0.02,0.26, 0.34,0.18,0.25,0.11,0.31,0.22,0.37,0.06,0.28,0.19,
  0.24,0.33,0.12,0.27,0.16,0.30,-0.02,0.21,0.35,0.14, 0.26,0.09,0.29,0.18,0.23];
const szGreen = [2.08,1.54,1.65,1.32,1.23,1.11,1.08,1.15,1.12,1.20, 1.14,1.02,0.95,0.62,0.64,0.87,0.80,0.75,0.86,0.70,
  0.79,0.84,0.41,0.45,0.66,0.31,0.71,0.58,0.49,0.69, 0.50,0.71,0.46,0.62,0.38,0.55,0.08,0.43,0.60,0.35,
  0.52,0.29,0.47,0.40,0.57,0.33,0.45,0.21,0.50,0.37, 0.26,0.44,0.35,0.53,0.18,0.41,0.30,0.48,0.24,0.39,
  0.46,0.27,0.36,0.12,0.42,0.31,0.49,0.22,0.38,0.28, 0.34,0.15,0.43,0.25,0.37,0.05,0.32,0.45,0.20,0.29,
  0.40,0.23,0.33,0.10,0.36,0.27,0.44,0.19,0.30,0.38, 0.21,0.34,0.26,0.13,0.31];

// fitted noise models, sampled at bin indices (log10)
const fitBinsC = [1, 1.754, 4, 7, 17.5, 35, 52.6, 90, 167];
const fitBinsCPurple = [1, 1.754, 4, 7, 17.5, 35, 52.6, 90, 146];
const syFitBlue   = [-8.49, -8.77, -9.17, -9.50, -9.98, -10.19, -10.33, -10.42, -10.47];
const syFitOrange = [-8.26, -8.72, -9.16, -9.50, -9.97, -10.17, -10.30, -10.39, -10.44];
const syFitYellow = [-8.39, -8.82, -9.18, -9.66, -10.10, -10.30, -10.38, -10.45, -10.50];
const syFitPurple = [-9.26, -9.61, -10.10, -10.44, -10.86, -11.04, -11.14, -11.22, -11.28];
const syFitGreen  = [-9.03, -9.40, -9.98, -10.38, -10.84, -11.02, -11.12, -11.20, -11.29];

const fitBinsD = [1, 1.754, 4.1, 9.9, 17.7, 34.7, 68.7, 167];
const fitBinsDPurple = [1, 1.754, 4.1, 9.9, 17.7, 34.7, 68.7, 118];
const szFitBlue   = [2.99, 2.42, 1.90, 1.48, 1.17, 1.01, 0.83, 0.71];
const szFitOrange = [2.66, 2.46, 2.12, 1.73, 1.51, 1.31, 1.11, 0.99];
const szFitYellow = [3.13, 2.54, 1.99, 1.60, 1.29, 1.11, 0.95, 0.87];
const szFitPurple = [1.88, 1.69, 1.29, 0.97, 0.75, 0.54, 0.34, 0.26];
const szFitGreen  = [1.94, 1.75, 1.33, 1.04, 0.81, 0.60, 0.40, 0.26];

/* ---------- ticks ---------- */
const timeTicks = [0, 100, 200, 300, 400, 500, 600, 700, 800, 900, 1000];
const dfTicks = [-5, 0, 5];
const gmTicks = [100, 150, 200];

/* ================= drawing ================= */
const svg = d3.select('#chart');
const AX = '#262626', GRID = '#d9d9d9';
const FS = 21, SUP = 14;
const minus = v => v < 0 ? '\u2212' + (-v) : String(v);

function powLabel(sel, e) {
  sel.text('10').append('tspan').attr('dy', -9).attr('font-size', SUP).text(minus(e));
}

// linear panel (a)/(b)
function linPanel(x, y, yTicks, label) {
  const [L, R] = x.range(), [B, T] = y.range();
  const g = svg.append('g');
  g.append('g').selectAll('line').data(timeTicks).join('line')
    .attr('x1', d => x(d)).attr('x2', d => x(d)).attr('y1', T).attr('y2', B)
    .attr('stroke', GRID);
  g.append('g').selectAll('line').data(yTicks).join('line')
    .attr('x1', L).attr('x2', R).attr('y1', d => y(d)).attr('y2', d => y(d))
    .attr('stroke', GRID);
  g.append('rect').attr('x', L).attr('y', T).attr('width', R - L).attr('height', B - T)
    .attr('fill', 'none').attr('stroke', AX);
  const tl = 9;
  const tk = g.append('g').attr('stroke', AX).attr('stroke-width', 1.3);
  timeTicks.forEach(t => {
    tk.append('line').attr('x1', x(t)).attr('x2', x(t)).attr('y1', B).attr('y2', B - tl);
    tk.append('line').attr('x1', x(t)).attr('x2', x(t)).attr('y1', T).attr('y2', T + tl);
  });
  yTicks.forEach(v => {
    tk.append('line').attr('x1', L).attr('x2', L + tl).attr('y1', y(v)).attr('y2', y(v));
    tk.append('line').attr('x1', R).attr('x2', R - tl).attr('y1', y(v)).attr('y2', y(v));
  });
  g.append('g').selectAll('text').data(yTicks).join('text')
    .attr('x', L - 10).attr('y', d => y(d) + 7).attr('text-anchor', 'end')
    .attr('font-size', FS).attr('fill', '#000').text(d => minus(d));
  svg.append('text').attr('x', 42).attr('y', T + 25).attr('text-anchor', 'middle')
    .attr('font-size', FS).text(label);
  return g;
}

// log panel (c)/(d)
function logPanel(x, y, label, labelX) {
  const [L, R] = x.range(), [B, T] = y.range();
  const g = svg.append('g');
  const decades = sc => {
    const [a, b] = sc.domain(), maj = [], min = [];
    for (let e = Math.floor(Math.log10(a)); e <= Math.ceil(Math.log10(b)); e++) {
      for (let k = 1; k <= 9; k++) {
        const v = k * Math.pow(10, e);
        if (v > a && v < b) (k === 1 ? maj : min).push(v);
      }
    }
    return { maj, min };
  };
  const xd = decades(x), yd = decades(y);
  const grid = g.append('g');
  grid.selectAll('.mx').data(xd.min).join('line').attr('class', 'mx')
    .attr('x1', d => x(d)).attr('x2', d => x(d)).attr('y1', T).attr('y2', B)
    .attr('stroke', '#e9e9e9').attr('stroke-dasharray', '6,3');
  grid.selectAll('.my').data(yd.min).join('line').attr('class', 'my')
    .attr('x1', L).attr('x2', R).attr('y1', d => y(d)).attr('y2', d => y(d))
    .attr('stroke', '#e9e9e9').attr('stroke-dasharray', '6,3');
  grid.selectAll('.Mx').data(xd.maj).join('line').attr('class', 'Mx')
    .attr('x1', d => x(d)).attr('x2', d => x(d)).attr('y1', T).attr('y2', B)
    .attr('stroke', '#d2d2d2');
  grid.selectAll('.My').data(yd.maj).join('line').attr('class', 'My')
    .attr('x1', L).attr('x2', R).attr('y1', d => y(d)).attr('y2', d => y(d))
    .attr('stroke', '#d2d2d2');
  g.append('rect').attr('x', L).attr('y', T).attr('width', R - L).attr('height', B - T)
    .attr('fill', 'none').attr('stroke', AX);
  const tk = g.append('g').attr('stroke', AX).attr('stroke-width', 1.3);
  const xt = (v, len) => {
    tk.append('line').attr('x1', x(v)).attr('x2', x(v)).attr('y1', B).attr('y2', B - len);
    tk.append('line').attr('x1', x(v)).attr('x2', x(v)).attr('y1', T).attr('y2', T + len);
  };
  const yt = (v, len) => {
    tk.append('line').attr('x1', L).attr('x2', L + len).attr('y1', y(v)).attr('y2', y(v));
    tk.append('line').attr('x1', R).attr('x2', R - len).attr('y1', y(v)).attr('y2', y(v));
  };
  xd.maj.forEach(v => xt(v, 10)); xd.min.forEach(v => xt(v, 6));
  yd.maj.forEach(v => yt(v, 10)); yd.min.forEach(v => yt(v, 6));
  xd.maj.forEach(v => {
    g.append('text').attr('x', x(v)).attr('y', B + 29).attr('text-anchor', 'middle')
      .attr('font-size', FS).call(powLabel, Math.round(Math.log10(v)));
  });
  yd.maj.forEach(v => {
    g.append('text').attr('x', L - 10).attr('y', y(v) + 8).attr('text-anchor', 'end')
      .attr('font-size', FS).call(powLabel, Math.round(Math.log10(v)));
  });
  svg.append('text').attr('x', labelX).attr('y', T + 28).attr('text-anchor', 'middle')
    .attr('font-size', FS).text(label);
  return g;
}

/* ---------- panel (a) and (b) ---------- */
const xT = d3.scaleLinear().domain([0, 1022]).range([114.5, 1347.5]);
const yA = d3.scaleLinear().domain([-7, 7]).range([363, 61]);
const yB = d3.scaleLinear().domain([70, 210]).range([681, 379]);

const gA = linPanel(xT, yA, dfTicks, '(a)');
const gB = linPanel(xT, yB, gmTicks, '(b)');

// x tick labels below (b)
svg.append('g').selectAll('text').data(timeTicks).join('text')
  .attr('x', d => xT(d)).attr('y', 706).attr('text-anchor', 'middle')
  .attr('font-size', FS).text(d => d);

function tracePoints(segs, offset) {
  const pts = [];
  segs.forEach((vals, i) => vals.forEach((v, j) => pts.push([segStart[i] + offset + j * sampleStep, v])));
  return pts;
}
function drawDots(g, pts, x, y, color, r) {
  g.append('g').selectAll('circle').data(pts).join('circle')
    .attr('cx', d => x(d[0])).attr('cy', d => y(d[1])).attr('r', r)
    .attr('fill', color).attr('fill-opacity', 0.85);
}

const dfSeries = [[dfBlue, dfBlue2], [dfOrange, dfOrange2], [dfYellow, dfYellow2], [dfPurple, dfPurple2], [dfGreen, dfGreen2]];
const gmSeries = [[gmBlue, gmBlue2], [gmOrange, gmOrange2], [gmYellow, gmYellow2], [gmPurple, gmPurple2], [gmGreen, gmGreen2]];
dfSeries.forEach(([ev, od], i) => drawDots(gA, tracePoints(ev, 0).concat(tracePoints(od, 1)), xT, yA, seriesColors[i], 2.5));
gmSeries.forEach(([ev, od], i) => drawDots(gB, tracePoints(ev, 0).concat(tracePoints(od, 1)), xT, yB, seriesColors[i], 2.5));

// axis titles (a)/(b)
const tA = svg.append('text').attr('transform', 'translate(48,212) rotate(-90)')
  .attr('text-anchor', 'middle').attr('font-size', 22);
tA.append('tspan').attr('font-style', 'italic').text('\u0394f');
tA.append('tspan').attr('font-size', 15).attr('dy', 5).text('r');
tA.append('tspan').attr('dy', -5).text('\u2009(kHz)');

const tB = svg.append('text').attr('transform', 'translate(48,530) rotate(-90)')
  .attr('text-anchor', 'middle').attr('font-size', 22);
tB.append('tspan').attr('font-style', 'italic').text('\u0393');
tB.append('tspan').attr('font-size', 14).attr('dy', -9).text('r');
tB.append('tspan').attr('font-size', 14).attr('dx', -6).attr('dy', 15).text('int');
tB.append('tspan').attr('dy', -6).text('\u2009(kHz)');

const tT = svg.append('text').attr('x', 730).attr('y', 741).attr('text-anchor', 'middle').attr('font-size', 22);
tT.append('tspan').attr('font-style', 'italic').text('t');
tT.append('tspan').text(' (h)');

/* ---------- panel (c) and (d) ---------- */
const xC = d3.scaleLog().domain([Math.pow(10, -5.3733), Math.pow(10, -2.8844)]).range([114, 674]);
const yC = d3.scaleLog().domain([Math.pow(10, -12.296), Math.pow(10, -8.2197)]).range([1075, 772]);
const xD = d3.scaleLog().domain([Math.pow(10, -5.367), Math.pow(10, -2.885)]).range([787, 1348]);
const yD = d3.scaleLog().domain([Math.pow(10, -0.298), Math.pow(10, 3.3095)]).range([1075, 772]);

const gC = logPanel(xC, yC, '(c)', 42);
const gD = logPanel(xD, yD, '(d)', 718);

const specPoints = vals => vals.map((v, i) => [binIndex[i] * binWidth, Math.pow(10, v)]);
const sySeries = [syBlue, syOrange, syYellow, syPurple, syGreen];
const szSeries = [szBlue, szOrange, szYellow, szPurple, szGreen];
sySeries.forEach((s, i) => drawDots(gC, specPoints(s), xC, yC, seriesColors[i], 2.6));
szSeries.forEach((s, i) => drawDots(gD, specPoints(s), xD, yD, seriesColors[i], 2.6));

function drawFit(g, bins, vals, x, y, color) {
  const line = d3.line().curve(d3.curveCatmullRom.alpha(0.5))
    .x(d => x(d[0] * binWidth)).y(d => y(Math.pow(10, d[1])));
  g.append('path').datum(bins.map((b, i) => [b, vals[i]]))
    .attr('d', line).attr('fill', 'none').attr('stroke', color).attr('stroke-width', 2.2);
}
const syFits = [syFitBlue, syFitOrange, syFitYellow, syFitPurple, syFitGreen];
const szFits = [szFitBlue, szFitOrange, szFitYellow, szFitPurple, szFitGreen];
syFits.forEach((f, i) => drawFit(gC, i === 3 ? fitBinsCPurple : fitBinsC, f, xC, yC, seriesColors[i]));
szFits.forEach((f, i) => drawFit(gD, i === 3 ? fitBinsDPurple : fitBinsD, f, xD, yD, seriesColors[i]));

// axis titles (c)/(d)
function specTitle(xc, sub, subItalic) {
  const t = svg.append('text').attr('transform', `translate(${xc},923) rotate(-90)`)
    .attr('text-anchor', 'middle').attr('font-size', 22);
  t.append('tspan').attr('font-style', 'italic').text('S');
  t.append('tspan').attr('font-size', 15).attr('dy', 5).attr('font-style', subItalic ? 'italic' : 'normal').text(sub);
  t.append('tspan').attr('dy', -5).text('\u2002(Hz');
  t.append('tspan').attr('font-size', 15).attr('dy', -9).text('\u22121');
  t.append('tspan').attr('dy', 9).text(')');
}
specTitle(37, 'y', false);
specTitle(728, 'z', true);

[394, 1067].forEach(xc => {
  const t = svg.append('text').attr('x', xc).attr('y', 1139).attr('text-anchor', 'middle').attr('font-size', 22);
  t.append('tspan').attr('font-style', 'italic').text('f');
  t.append('tspan').text(' (Hz)');
});

/* ---------- legend ---------- */
const legendDotX = [191, 343, 580, 836, 1068];
const lg = svg.append('g');
lg.append('rect').attr('x', 178.5).attr('y', 2.5).attr('width', 1104).attr('height', 42)
  .attr('fill', '#fff').attr('stroke', '#000');
seriesNames.forEach((name, i) => {
  lg.append('circle').attr('cx', legendDotX[i]).attr('cy', 23).attr('r', 3).attr('fill', seriesColors[i]);
  lg.append('text').attr('x', legendDotX[i] + 9).attr('y', 31).attr('font-size', 22).text(name);
});
</script>
</body>
</html>
